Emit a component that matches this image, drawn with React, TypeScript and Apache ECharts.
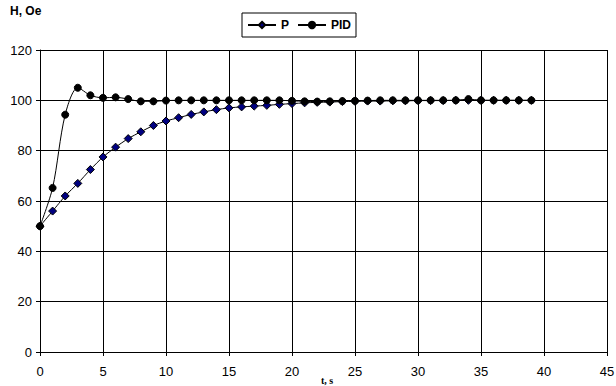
import React, { useEffect, useRef } from "react";
import * as echarts from "echarts";

const times: number[] = Array.from({ length: 40 }, (_, i) => i);
const pValues: number[] = [50, 56, 62, 67, 72.5, 77.5, 81.4, 84.8, 87.5, 90, 91.8, 93.1, 94.4, 95.4, 96.3, 97, 97.4, 97.7, 98, 98.4, 98.7, 99, 99.2, 99.3, 99.5, 99.6, 99.7, 99.7, 99.8, 99.8, 99.9, 99.9, 99.9, 100, 100, 100, 100, 100, 100, 100];
const pidValues: number[] = [50, 65.2, 94.3, 105, 102, 101, 101.2, 100.5, 99.6, 99.6, 99.9, 100, 100, 100, 100, 100, 100, 100, 100, 100, 99.8, 99.6, 99.5, 99.6, 99.7, 99.8, 99.9, 100, 100, 100, 100, 100, 100, 100, 100.5, 100, 100, 100, 100, 100];
const xAxisTitle = "t, s";

const FONT = "Liberation Sans, Arial, sans-serif";

export default function App() {
  const ref = useRef<HTMLDivElement>(null);
  useEffect(() => {
    if (!ref.current) return;
    const chart = echarts.init(ref.current, null, { renderer: "svg" });
    chart.setOption({
      animation: false,
      backgroundColor: "#ffffff",
      title: {
        text: "H, Oe",
        left: 10,
        top: 5,
        padding: 0,
        textStyle: { fontFamily: FONT, fontWeight: "bold", fontSize: 12, color: "#000" },
      },
      legend: {
        left: 242,
        top: 13,
        padding: [6, 5, 6, 5],
        borderColor: "#000",
        borderWidth: 1,
        itemWidth: 28,
        itemHeight: 8,
        itemGap: 8,
        textStyle: { fontFamily: FONT, fontWeight: "bold", fontSize: 12, color: "#000" },
        data: ["P", "PID"],
      },
      graphic: [
        {
          type: "text",
          x: 327,
          y: 380,
          style: {
            text: xAxisTitle,
            fontFamily: "Liberation Serif, Times New Roman, serif",
            fontWeight: "bold",
            fontSize: 10,
            fill: "#000",
            align: "center",
            verticalAlign: "middle",
          },
        },
      ],
      grid: { left: 40, right: 9, top: 50, bottom: 34, containLabel: false, outerBoundsMode: "none" },
      xAxis: {
        type: "value",
        min: 0,
        max: 45,
        interval: 5,
        axisLine: { show: true, lineStyle: { color: "#000", width: 1 } },
        axisTick: { show: true, length: 4, lineStyle: { color: "#000" } },
        axisLabel: { fontFamily: FONT, fontSize: 13, color: "#000", margin: 13 },
        splitLine: { show: true, lineStyle: { color: "#000", width: 1 } },
      },
      yAxis: {
        type: "value",
        min: 0,
        max: 120,
        interval: 20,
        axisLine: { show: true, lineStyle: { color: "#000", width: 1 } },
        axisTick: { show: true, length: 4, lineStyle: { color: "#000" } },
        axisLabel: { fontFamily: FONT, fontSize: 13, color: "#000", margin: 8 },
        splitLine: { show: true, lineStyle: { color: "#000", width: 1 } },
      },
      series: [
        {
          name: "P",
          type: "line",
          data: times.map((t, i) => [t, pValues[i]]),
          smooth: 0.2,
          symbol: "diamond",
          symbolSize: 8,
          lineStyle: { color: "#000", width: 1 },
          itemStyle: { color: "#000080", borderColor: "#000", borderWidth: 1 },
        },
        {
          name: "PID",
          type: "line",
          data: times.map((t, i) => [t, pidValues[i]]),
          smooth: 0.3,
          symbol: "circle",
          symbolSize: 7,
          lineStyle: { color: "#000", width: 1 },
          itemStyle: { color: "#000", borderColor: "#000", borderWidth: 1 },
        },
      ],
    });
    return () => chart.dispose();
  }, []);
  return (
    <div
      ref={ref}
      style={{ position: "absolute", left: 0, top: 0, width: 616, height: 386 }}
    />
  );
}
